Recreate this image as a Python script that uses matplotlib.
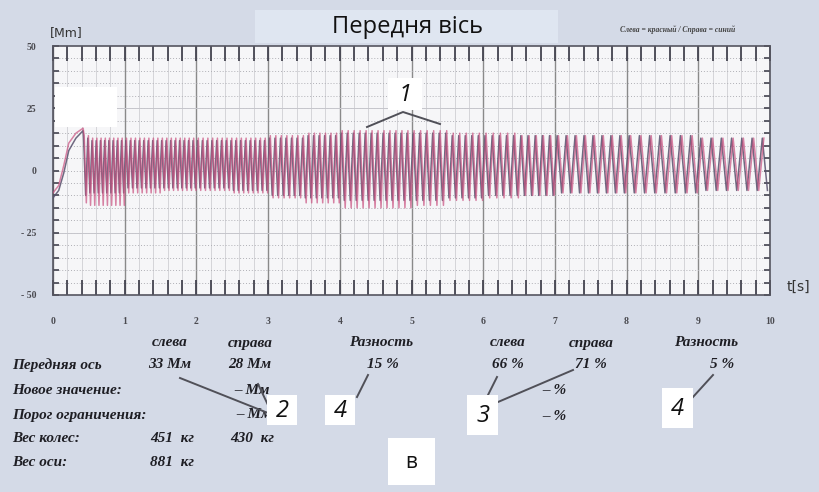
import numpy as np
import matplotlib
matplotlib.use("Agg")
import matplotlib.pyplot as plt
import matplotlib.patches as mpatches
from matplotlib.lines import Line2D

W, H = 819, 492
BG       = "#d4dae7"
PLOT_BG  = "#f6f6f8"
TITLE_BG = "#dfe6f1"
RED      = "#c9507f"
BLUE     = "#57506c"
TXT      = "#1e1e24"

# cycles counted per second of the test (0-1 s ... 9-10 s)
sec_start      = [0, 1, 2, 3, 4, 5, 6, 7, 8, 9]
cycles_per_sec = [17, 16, 15, 13, 12, 11, 10, 8, 7, 7]

# envelope read per half second (0-0.5 s ... 9.5-10 s), Mm
red_upper  = [14, 13, 13, 13, 13, 13, 14, 15, 16, 16,
              16, 15, 15, 14, 14, 14, 14, 14, 13, 13]
red_lower  = [-13, -14, -9, -8, -8, -9, -11, -13, -15, -15,
              -14, -12, -11, -10, -9, -9, -9, -9, -8, -8]
blue_upper = [13, 12, 12, 12, 12, 12, 13, 14, 15, 15,
              15, 14, 14, 14, 14, 14, 14, 14, 13, 13]
blue_lower = [-10, -9, -7, -7, -7, -8, -10, -11, -12, -12,
              -12, -11, -10, -10, -9, -9, -9, -9, -8, -8]

# start-up ramp before the oscillation
ramp_t      = [0.0, 0.08, 0.15, 0.22, 0.32, 0.42]
ramp_red    = [-9, -6, 2, 11, 15, 17]
ramp_blue   = [-11, -8, -1, 8, 13, 16]

x_ticks  = [0, 1, 2, 3, 4, 5, 6, 7, 8, 9, 10]
y_ticks  = [-50, -25, 0, 25, 50]
y_labels = ["- 50", "- 25", "0", "25", "50"]


def peaks(upper, lower, ramp_v, phase):
    t = list(ramp_t)
    v = list(ramp_v)
    for s, n in zip(sec_start, cycles_per_sec):
        for k in range(n):
            for frac, env in ((0.25, upper), (0.75, lower)):
                tt = s + (k + frac + phase) / n
                if tt <= ramp_t[-1] or tt > 9.97:
                    continue
                t.append(tt)
                v.append(env[min(int(tt * 2), 19)])
    return t, v


def fx(x):
    return x / W


def fy(y):
    return 1 - y / H


fig = plt.figure(figsize=(W / 100, H / 100), dpi=100, facecolor=BG)
ax = fig.add_axes([fx(53), fy(295), fx(770) - fx(53), fy(46) - fy(295)])
ax.set_facecolor(PLOT_BG)
ax.set_xlim(0, 10)
ax.set_ylim(-50, 50)

# grid
for t in np.arange(0, 10.01, 0.2):
    major = abs(t - round(t)) < 1e-6
    ax.axvline(t, color="#8a8a8a" if major else "#cfcfd4",
               lw=1.0 if major else 0.6, zorder=1)
for v in range(-45, 50, 5):
    ax.axhline(v, color="#b0b0b6", lw=0.7, ls=(0, (1, 2)), zorder=1)
for v in (-25, 25):
    ax.axhline(v, color="#c6c6cc", lw=0.7, zorder=1)

# signals
bt, bv = peaks(blue_upper, blue_lower, ramp_blue, 0.0)
rt, rv = peaks(red_upper, red_lower, ramp_red, 0.15)
ax.plot(bt, bv, color=BLUE, lw=1.1, alpha=0.85, zorder=3)
ax.plot(rt, rv, color=RED, lw=1.1, alpha=0.7, zorder=4)

# frame & ticks
for sp in ax.spines.values():
    sp.set_color("#555560")
    sp.set_linewidth(1.2)
ax.set_xticks(x_ticks)
ax.set_xticklabels([str(t) for t in x_ticks])
ax.set_xticks(np.arange(0, 10.01, 0.2), minor=True)
ax.set_yticks(y_ticks)
ax.set_yticklabels(y_labels)
ax.set_yticks(range(-50, 51, 5), minor=True)
ax.tick_params(axis="x", which="both", direction="in", top=True, bottom=True,
               length=11, width=1.3, color="#444450", pad=16,
               labelsize=7, labelcolor="#4a4a50")
ax.tick_params(axis="y", which="both", direction="in", left=True, right=True,
               length=4, width=1.2, color="#444450", pad=12,
               labelsize=7, labelcolor="#4a4a50")
for lbl in ax.get_xticklabels() + ax.get_yticklabels():
    lbl.set_family("Liberation Serif")
    lbl.set_weight("bold")

# header
fig.patches.append(mpatches.Rectangle((fx(255), fy(43)), fx(558) - fx(255),
                                      fy(10) - fy(43), transform=fig.transFigure,
                                      facecolor=TITLE_BG, edgecolor="none", zorder=5))
fig.text(fx(408), fy(27), "Передня вісь", ha="center", va="center",
         fontsize=17, family="Open Sans", color="#111", zorder=6)
fig.text(fx(66), fy(33), "[Mm]", ha="center", va="center", fontsize=9,
         family="DejaVu Sans", color="#333")
fig.text(fx(678), fy(30), "Слева = красный / Справа = синий", ha="center",
         va="center", fontsize=5.5, family="Liberation Serif", style="italic",
         weight="bold", color="#444")
fig.text(fx(798), fy(287), "t[s]", ha="center", va="center", fontsize=10,
         family="DejaVu Sans", color="#333")

# results table
serif = dict(family="Liberation Serif", style="italic", weight="bold",
             color=TXT, fontsize=11, va="center")
rows = [
    (12, 365, "Передняя ось", "left"),
    (12, 390, "Новое значение:", "left"),
    (12, 415, "Порог ограничения:", "left"),
    (12, 438, "Вес колес:", "left"),
    (12, 463, "Вес оси:", "left"),
    (170, 343, "слева", "center"),
    (250, 343, "справа", "center"),
    (381, 343, "Разность", "center"),
    (170, 365, "33 Мм", "center"),
    (250, 365, "28 Мм", "center"),
    (383, 365, "15 %", "center"),
    (252, 390, "– Мм", "center"),
    (254, 415, "– Мм", "center"),
    (172, 438, "451  кг", "center"),
    (252, 438, "430  кг", "center"),
    (172, 463, "881  кг", "center"),
    (508, 343, "слева", "center"),
    (591, 343, "справа", "center"),
    (706, 343, "Разность", "center"),
    (508, 365, "66 %", "center"),
    (591, 365, "71 %", "center"),
    (554, 391, "– %", "center"),
    (554, 416, "– %", "center"),
    (722, 365, "5 %", "center"),
]
for x, y, s, ha in rows:
    fig.text(fx(x), fy(y), s, ha=ha, **serif)

# leader lines
leaders = [
    ([367, 403, 440], [127, 112, 124]),
    ([180, 268], [378, 413]),
    ([258, 268], [384, 405]),
    ([357, 368], [397, 375]),
    ([488, 497], [395, 377]),
    ([498, 573], [402, 370]),
    ([693, 713], [397, 375]),
]
for xs, ys in leaders:
    fig.add_artist(Line2D([fx(v) for v in xs], [fy(v) for v in ys],
                          transform=fig.transFigure, color="#505058", lw=1.4,
                          zorder=7))

# white marker boxes
boxes = [
    (55, 87, 117, 127, ""),
    (388, 78, 422, 110, "1"),
    (267, 395, 297, 425, "2"),
    (325, 395, 355, 425, "4"),
    (467, 395, 498, 435, "3"),
    (662, 388, 693, 428, "4"),
    (388, 438, 435, 485, "в"),
]
for x0, y0, x1, y1, s in boxes:
    fig.patches.append(mpatches.Rectangle((fx(x0), fy(y1)), fx(x1) - fx(x0),
                                          fy(y0) - fy(y1), transform=fig.transFigure,
                                          facecolor="white", edgecolor="none", zorder=8))
    if s:
        fig.text(fx((x0 + x1) / 2), fy((y0 + y1) / 2 + 1), s, ha="center",
                 va="center", fontsize=17 if s != "в" else 15, family="Open Sans",
                 style="normal" if s == "в" else "italic", color="#111", zorder=9)

fig.savefig("out.png", dpi=100, facecolor=BG)
